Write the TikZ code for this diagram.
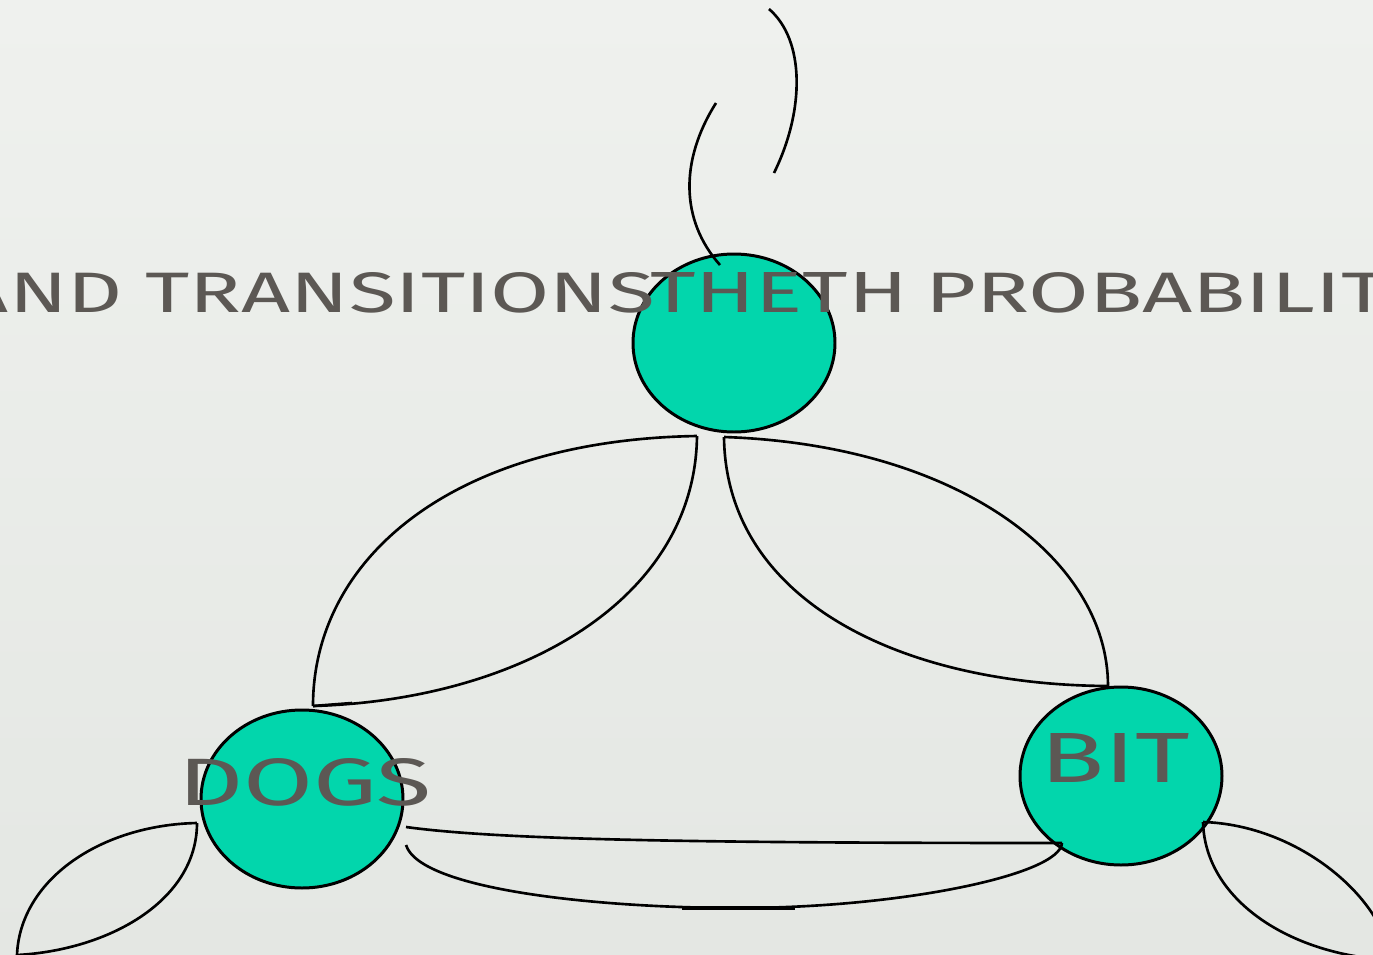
\documentclass[tikz,border=0pt]{standalone}
\usepackage{fontspec}
\setmainfont{Fira Sans}
\usetikzlibrary{calc,shapes.geometric}
\definecolor{bgtop}{RGB}{239,241,238}
\definecolor{bgbot}{RGB}{228,231,227}
\definecolor{teal}{RGB}{2,214,172}
\definecolor{ink}{RGB}{92,88,84}
\tikzset{
  state/.style={ellipse,draw=black,line width=0.85pt,fill=teal,minimum width=2.02cm,minimum height=1.78cm,inner sep=0pt},
  edge/.style={draw=black,line width=0.75pt},
  lbl/.style={inner sep=0pt,outer sep=0pt,text=ink,anchor=base west}
}
\begin{document}
\begin{tikzpicture}
\useasboundingbox (0,0) rectangle (13.73,-9.55);
\shade[top color=bgtop,bottom color=bgbot] (0,0) rectangle (13.73,-9.55);
\clip (0,0) rectangle (13.73,-9.55);
% states
\node[state] (T) at (7.34,-3.43) {};
\node[state] (D) at (3.02,-7.99) {};
\node[state] (B) at (11.21,-7.76) {};
% free ends
\coordinate (tA) at (7.16,-1.03);
\coordinate (tB1) at (7.69,-0.09);
\coordinate (tB2) at (7.74,-1.73);
\coordinate (dL) at (0.17,-9.55);
\coordinate (bR) at (13.90,-9.60);
% top self loop (two strokes)
\draw[edge] ($(T)+(-0.14,0.78)$) .. controls (6.80,-2.20) and (6.80,-1.60) .. (tA);
\draw[edge] (tB1) .. controls (8.05,-0.40) and (8.05,-1.10) .. (tB2);
% T -- D lens
\draw[edge] ($(T)+(-0.37,-0.93)$) .. controls (4.50,-4.40) and (3.13,-5.60) .. ($(D)+(0.11,0.93)$);
\draw[edge] ($(T)+(-0.37,-0.93)$) .. controls (6.95,-6.00) and (5.20,-7.00) .. ($(D)+(0.11,0.93)$);
\draw[edge] ($(D)+(0.11,0.93)$) -- ($(D)+(0.50,0.96)$);
% T -- B lens
\draw[edge] ($(T)+(-0.10,-0.94)$) .. controls (9.60,-4.45) and (11.08,-5.60) .. ($(B)+(-0.13,0.90)$);
\draw[edge] ($(T)+(-0.10,-0.94)$) .. controls (7.26,-6.00) and (9.00,-6.85) .. ($(B)+(-0.13,0.90)$);
% D -- B
\draw[edge] ($(D)+(1.04,-0.28)$) .. controls (5.00,-8.40) and (7.00,-8.43) .. ($(B)+(-0.59,-0.67)$);
\draw[edge] ($(D)+(1.04,-0.46)$) .. controls (4.20,-8.90) and (6.00,-9.08) .. (7.38,-9.08)
  .. controls (9.00,-9.08) and (10.60,-8.75) .. ($(B)+(-0.59,-0.67)$);
\draw[black,line width=1.2pt] (6.82,-9.08) -- (7.95,-9.08);
% D self loop
\draw[edge] ($(D)+(-1.05,-0.24)$) .. controls (1.00,-8.25) and (0.20,-8.80) .. (dL);
\draw[edge] ($(D)+(-1.05,-0.24)$) .. controls (1.97,-9.00) and (1.10,-9.50) .. (dL);
% B self loop
\draw[edge] ($(B)+(0.82,-0.46)$) .. controls (13.00,-8.25) and (13.85,-9.00) .. (bR);
\draw[edge] ($(B)+(0.82,-0.46)$) .. controls (12.05,-9.00) and (12.90,-9.55) .. (bR);
% texts
\node[lbl] (t1) at (-0.40,-3.12) {\resizebox{6.95cm}{0.40cm}{AND TRANSITIONS}};
\node[lbl] (t2) at (6.50,-3.12) {\resizebox{2.58cm}{0.40cm}{THETH}};
\node[lbl] (t3) at (9.25,-3.12) {\resizebox{5.10cm}{0.40cm}{PROBABILITY}};
\node[lbl] (dogs) at (1.78,-8.05) {\resizebox{2.54cm}{0.47cm}{DOGS}};
\node[lbl] (bit) at (10.40,-7.82) {\resizebox{1.50cm}{0.49cm}{BIT}};
\end{tikzpicture}
\end{document}
